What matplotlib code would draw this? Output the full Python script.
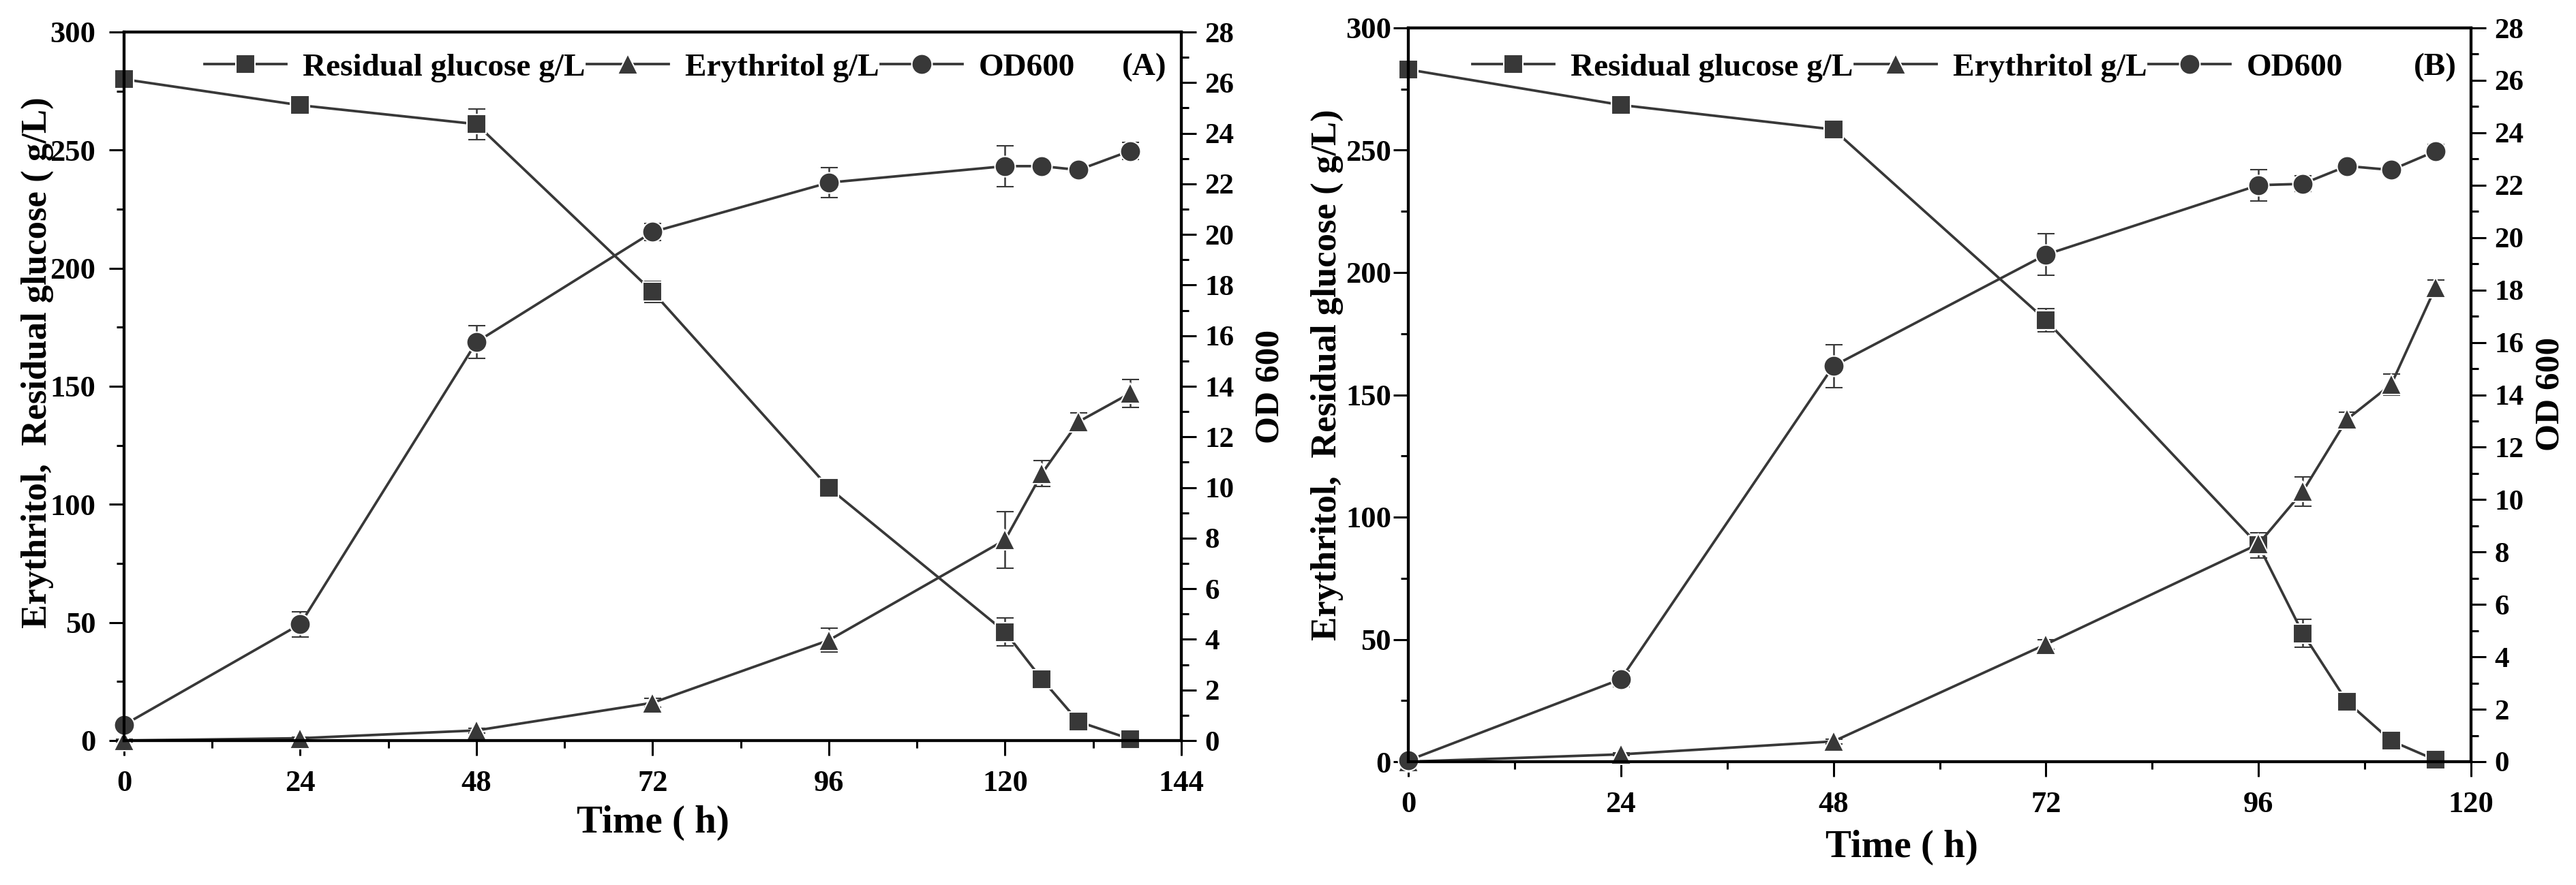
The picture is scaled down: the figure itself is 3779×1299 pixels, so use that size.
import matplotlib
matplotlib.use("Agg")
import matplotlib.pyplot as plt
from matplotlib.ticker import MultipleLocator
from matplotlib.lines import Line2D
import numpy as np

plt.rcParams['font.family'] = ['Liberation Serif', 'DejaVu Serif']
plt.rcParams['font.weight'] = 'bold'

# ---------------- data ----------------
time_a = [0, 24, 48, 72, 96, 120, 125, 130, 137]
glucose_a = [280, 269, 261, 190, 107, 46, 26, 8, 0.7]
glucose_a_err = [2, 2, 6.5, 4.5, 2, 6, 2, 1.5, 1]
erythritol_a = [0, 1, 4.3, 16, 42.5, 85, 113, 135, 147]
erythritol_a_err = [0.5, 0.5, 1, 2, 5, 12, 5.5, 3.8, 6]
od_a = [0.62, 4.6, 15.75, 20.1, 22.05, 22.7, 22.7, 22.55, 23.3]
od_a_err = [0.1, 0.5, 0.65, 0.33, 0.6, 0.8, 0.15, 0.15, 0.33]

time_b = [0, 24, 48, 72, 96, 101, 106, 111, 116]
glucose_b = [283, 268.5, 258.5, 180.5, 88.5, 52.5, 24.5, 8.5, 0.7]
glucose_b_err = [2, 3.2, 2, 4.6, 5.2, 5.7, 3, 2, 1]
erythritol_b = [0, 3, 8.3, 48, 89, 110.5, 140, 154.3, 194]
erythritol_b_err = [0.5, 0.5, 1, 2, 3, 6, 3, 4.3, 3]
od_b = [0.05, 3.15, 15.1, 19.35, 22.0, 22.05, 22.73, 22.58, 23.3]
od_b_err = [0.05, 0.3, 0.82, 0.8, 0.6, 0.3, 0.15, 0.15, 0.25]

legend_labels = ["Residual glucose g/L", "Erythritol g/L", "OD600"]
panel_tags = ["(A)", "(B)"]
ylabel_left = "Erythritol,  Residual glucose ( g/L)"
ylabel_right = "OD 600"
xlabel = "Time ( h)"

W, H = 3779, 1299
fig = plt.figure(figsize=(W / 100, H / 100), dpi=100)

def fx(px):
    return px / W

def fy(py):
    return 1 - py / H

C = '#383838'
LW = 2.7
MEW = 1.5
common = dict(color=C, lw=LW, mec='white', mew=MEW, ecolor=C,
              elinewidth=1.8, capsize=9, capthick=1.8)
markers = [('s', 20), ('^', 21), ('o', 21.5)]

panels = [
    dict(rect=(182, 47, 1733, 1087), t=time_a, g=glucose_a, ge=glucose_a_err,
         e=erythritol_a, ee=erythritol_a_err, o=od_a, oe=od_a_err, xmax=144,
         ypad=14, leg_x=300, leg_y=99, tag_x=1679, tag_y=99,
         ylab=(55, 532), rlab=(1863, 567), xlab=(958, 1208)),
    dict(rect=(2066, 41, 3625, 1118), t=time_b, g=glucose_b, ge=glucose_b_err,
         e=erythritol_b, ee=erythritol_b_err, o=od_b, oe=od_b_err, xmax=120,
         ypad=2, leg_x=2160, leg_y=99, tag_x=3572, tag_y=99,
         ylab=(1947, 550), rlab=(3742, 578), xlab=(2790, 1244)),
]

for i, p in enumerate(panels):
    l, t, r, b = p['rect']
    ax = fig.add_axes([fx(l), fy(b), fx(r) - fx(l), fy(t) - fy(b)])
    ax2 = ax.twinx()

    series = [(ax, p['g'], p['ge']), (ax, p['e'], p['ee']), (ax2, p['o'], p['oe'])]
    handles = []
    for (a, y, ye), (mk, ms) in zip(series, markers):
        h = a.errorbar(p['t'], y, yerr=ye, fmt='-' + mk, ms=ms, **common)
        h[0].set_clip_on(False)
        for c in list(h[1]) + list(h[2]):
            c.set_clip_on(False)
        handles.append(Line2D([], [], color=C, lw=LW, marker=mk, ms=ms,
                              mec='white', mew=MEW))

    ax.set_xlim(0, p['xmax'])
    ax.set_ylim(0, 300)
    ax2.set_ylim(0, 28)
    ax.xaxis.set_major_locator(MultipleLocator(24))
    ax.xaxis.set_minor_locator(MultipleLocator(12))
    ax.yaxis.set_major_locator(MultipleLocator(50))
    ax.yaxis.set_minor_locator(MultipleLocator(25))
    ax2.yaxis.set_major_locator(MultipleLocator(2))
    ax2.yaxis.set_minor_locator(MultipleLocator(1))

    for a in (ax, ax2):
        for s in a.spines.values():
            s.set_linewidth(3)
            s.set_color('black')
    ax.tick_params(axis='x', which='major', direction='out', length=16, width=2.2,
                   labelsize=32, pad=15)
    ax.tick_params(axis='x', which='minor', direction='out', length=8, width=2.2)
    ax.tick_params(axis='y', which='major', direction='out', length=16, width=2.2,
                   labelsize=32, pad=p['ypad'])
    ax.tick_params(axis='y', which='minor', direction='out', length=8, width=2.2)
    ax2.tick_params(axis='y', which='major', direction='out', length=16, width=2.2,
                    labelsize=31, pad=9)
    ax2.tick_params(axis='y', which='minor', direction='out', length=8, width=2.2)
    for lab in ax.get_xticklabels() + ax.get_yticklabels() + ax2.get_yticklabels():
        lab.set_fontweight('bold')

    fig.text(fx(p['ylab'][0]), fy(p['ylab'][1]), ylabel_left, rotation=90,
             ha='center', va='center', fontsize=38, fontweight='bold')
    fig.text(fx(p['rlab'][0]), fy(p['rlab'][1]), ylabel_right, rotation=90,
             ha='center', va='center', fontsize=37, fontweight='bold')
    fig.text(fx(p['xlab'][0]), fy(p['xlab'][1]), xlabel,
             ha='center', va='center', fontsize=41, fontweight='bold')
    fig.text(fx(p['tag_x']), fy(p['tag_y']), panel_tags[i],
             ha='center', va='center', fontsize=34, fontweight='bold')

    ax2.legend(handles, legend_labels, ncol=3, frameon=False,
               loc='center left', bbox_to_anchor=(fx(p['leg_x']), fy(p['leg_y'])),
               bbox_transform=fig.transFigure, borderpad=0, borderaxespad=0,
               handlelength=2.55, handletextpad=0.5, columnspacing=0.05,
               prop=dict(size=34, weight='bold'))

fig.savefig('out.png', dpi=100)
